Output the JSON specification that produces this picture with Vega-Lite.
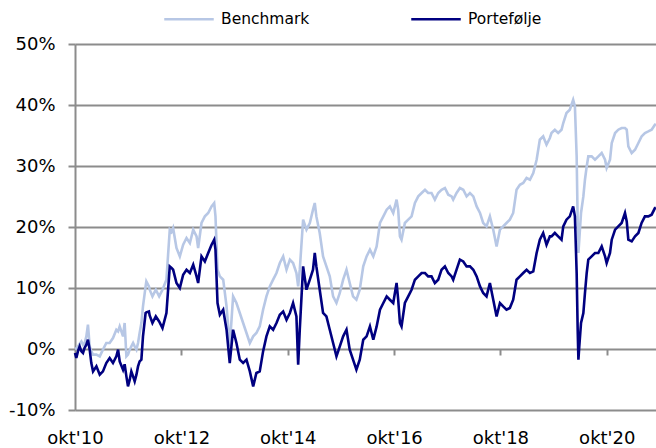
{
  "$schema": "https://vega.github.io/schema/vega-lite/v6.json",
  "width": 581,
  "height": 366,
  "autosize": {"type": "none"},
  "padding": {"left": 75, "top": 44, "right": 0, "bottom": 38},
  "config": {
    "view": {"stroke": null},
    "font": "DejaVu Sans",
    "axis": {"labelFont": "DejaVu Sans", "labelColor": "#000000"}
  },
  "data": {
    "values": [
      {"d": "2010-10-01", "Benchmark": 0.0, "Portefølje": -0.66},
      {"d": "2010-10-10", "Benchmark": 0.1, "Portefølje": -1.48},
      {"d": "2010-10-22", "Benchmark": 0.43, "Portefølje": -0.3},
      {"d": "2010-11-02", "Benchmark": 0.87, "Portefølje": 0.43},
      {"d": "2010-11-14", "Benchmark": 1.25, "Portefølje": -0.38},
      {"d": "2010-11-25", "Benchmark": 0.7, "Portefølje": -0.66},
      {"d": "2010-12-06", "Benchmark": 0.98, "Portefølje": 0.2},
      {"d": "2010-12-18", "Benchmark": 2.07, "Portefølje": 0.7},
      {"d": "2010-12-29", "Benchmark": 3.98, "Portefølje": 1.52},
      {"d": "2011-01-10", "Benchmark": 0.43, "Portefølje": -0.11},
      {"d": "2011-01-21", "Benchmark": -0.38, "Portefølje": -2.3},
      {"d": "2011-02-02", "Benchmark": -0.93, "Portefølje": -3.67},
      {"d": "2011-02-25", "Benchmark": -0.93, "Portefølje": -2.85},
      {"d": "2011-03-20", "Benchmark": -1.21, "Portefølje": -4.21},
      {"d": "2011-04-11", "Benchmark": -0.11, "Portefølje": -3.67},
      {"d": "2011-05-04", "Benchmark": 0.98, "Portefølje": -2.3},
      {"d": "2011-05-27", "Benchmark": 0.98, "Portefølje": -1.48},
      {"d": "2011-06-19", "Benchmark": 1.8, "Portefølje": -2.3},
      {"d": "2011-07-12", "Benchmark": 3.16, "Portefølje": -1.21},
      {"d": "2011-07-24", "Benchmark": 2.89, "Portefølje": -0.11},
      {"d": "2011-08-04", "Benchmark": 3.7, "Portefølje": -2.03},
      {"d": "2011-08-27", "Benchmark": 2.07, "Portefølje": -3.39},
      {"d": "2011-09-07", "Benchmark": 4.26, "Portefølje": -2.5},
      {"d": "2011-09-19", "Benchmark": -1.21, "Portefølje": -4.49},
      {"d": "2011-09-30", "Benchmark": -0.93, "Portefølje": -6.13},
      {"d": "2011-10-12", "Benchmark": -0.11, "Portefølje": -5.03},
      {"d": "2011-10-23", "Benchmark": 0.43, "Portefølje": -3.67},
      {"d": "2011-11-04", "Benchmark": 0.98, "Portefølje": -4.49},
      {"d": "2011-11-15", "Benchmark": 0.43, "Portefølje": -5.31},
      {"d": "2011-11-27", "Benchmark": -0.11, "Portefølje": -4.21},
      {"d": "2011-12-08", "Benchmark": 0.98, "Portefølje": -2.85},
      {"d": "2011-12-19", "Benchmark": 2.62, "Portefølje": -2.03},
      {"d": "2011-12-31", "Benchmark": 4.26, "Portefølje": -1.75},
      {"d": "2012-01-11", "Benchmark": 6.98, "Portefølje": 2.07},
      {"d": "2012-01-29", "Benchmark": 10.26, "Portefølje": 5.9},
      {"d": "2012-02-03", "Benchmark": 11.08, "Portefølje": 6.0},
      {"d": "2012-02-21", "Benchmark": 10.26, "Portefølje": 6.16},
      {"d": "2012-02-26", "Benchmark": 9.72, "Portefølje": 5.5},
      {"d": "2012-03-16", "Benchmark": 8.62, "Portefølje": 4.26},
      {"d": "2012-04-08", "Benchmark": 9.72, "Portefølje": 5.34},
      {"d": "2012-05-01", "Benchmark": 8.62, "Portefølje": 4.52},
      {"d": "2012-05-24", "Benchmark": 9.72, "Portefølje": 3.44},
      {"d": "2012-06-20", "Benchmark": 11.36, "Portefølje": 5.9},
      {"d": "2012-07-13", "Benchmark": 19.56, "Portefølje": 13.54},
      {"d": "2012-07-25", "Benchmark": 19.2, "Portefølje": 13.3},
      {"d": "2012-08-05", "Benchmark": 19.83, "Portefølje": 13.0},
      {"d": "2012-08-28", "Benchmark": 16.56, "Portefølje": 10.82},
      {"d": "2012-09-20", "Benchmark": 15.18, "Portefølje": 10.0},
      {"d": "2012-10-13", "Benchmark": 17.1, "Portefølje": 12.18},
      {"d": "2012-11-05", "Benchmark": 18.2, "Portefølje": 13.0},
      {"d": "2012-11-28", "Benchmark": 17.38, "Portefølje": 12.46},
      {"d": "2012-12-21", "Benchmark": 19.56, "Portefølje": 13.82},
      {"d": "2013-01-13", "Benchmark": 18.46, "Portefølje": 11.9},
      {"d": "2013-01-24", "Benchmark": 16.56, "Portefølje": 10.82},
      {"d": "2013-02-16", "Benchmark": 20.66, "Portefølje": 15.18},
      {"d": "2013-03-11", "Benchmark": 21.74, "Portefølje": 14.36},
      {"d": "2013-04-03", "Benchmark": 22.3, "Portefølje": 15.74},
      {"d": "2013-04-26", "Benchmark": 23.38, "Portefølje": 17.1},
      {"d": "2013-05-14", "Benchmark": 23.93, "Portefølje": 17.92},
      {"d": "2013-05-23", "Benchmark": 21.74, "Portefølje": 16.28},
      {"d": "2013-06-06", "Benchmark": 13.0, "Portefølje": 7.54},
      {"d": "2013-06-22", "Benchmark": 11.9, "Portefølje": 5.62},
      {"d": "2013-07-15", "Benchmark": 11.36, "Portefølje": 6.44},
      {"d": "2013-08-07", "Benchmark": 6.98, "Portefølje": 3.16},
      {"d": "2013-08-29", "Benchmark": 0.43, "Portefølje": -2.3},
      {"d": "2013-09-21", "Benchmark": 8.62, "Portefølje": 3.16},
      {"d": "2013-10-14", "Benchmark": 7.54, "Portefølje": 0.98},
      {"d": "2013-11-06", "Benchmark": 5.9, "Portefølje": -1.75},
      {"d": "2013-11-29", "Benchmark": 4.26, "Portefølje": -2.3},
      {"d": "2013-12-22", "Benchmark": 2.62, "Portefølje": -1.75},
      {"d": "2014-01-14", "Benchmark": 0.98, "Portefølje": -3.67},
      {"d": "2014-02-06", "Benchmark": 2.07, "Portefølje": -6.13},
      {"d": "2014-02-28", "Benchmark": 2.62, "Portefølje": -3.93},
      {"d": "2014-03-23", "Benchmark": 3.7, "Portefølje": -3.67},
      {"d": "2014-04-15", "Benchmark": 6.44, "Portefølje": -0.39},
      {"d": "2014-05-08", "Benchmark": 8.62, "Portefølje": 2.07},
      {"d": "2014-05-31", "Benchmark": 10.26, "Portefølje": 3.7},
      {"d": "2014-06-23", "Benchmark": 11.36, "Portefølje": 3.16},
      {"d": "2014-07-16", "Benchmark": 12.46, "Portefølje": 4.26},
      {"d": "2014-08-08", "Benchmark": 14.1, "Portefølje": 5.62},
      {"d": "2014-08-31", "Benchmark": 15.18, "Portefølje": 6.16},
      {"d": "2014-09-23", "Benchmark": 13.0, "Portefølje": 4.8},
      {"d": "2014-10-16", "Benchmark": 14.64, "Portefølje": 5.9},
      {"d": "2014-11-07", "Benchmark": 14.1, "Portefølje": 7.54},
      {"d": "2014-11-30", "Benchmark": 12.46, "Portefølje": 5.34},
      {"d": "2014-12-12", "Benchmark": 10.26, "Portefølje": -2.57},
      {"d": "2014-12-23", "Benchmark": 13.0, "Portefølje": 3.16},
      {"d": "2015-01-15", "Benchmark": 21.2, "Portefølje": 13.54},
      {"d": "2015-02-07", "Benchmark": 19.56, "Portefølje": 9.72},
      {"d": "2015-03-02", "Benchmark": 20.66, "Portefølje": 11.36},
      {"d": "2015-03-24", "Benchmark": 22.84, "Portefølje": 13.0},
      {"d": "2015-04-05", "Benchmark": 23.93, "Portefølje": 15.74},
      {"d": "2015-04-16", "Benchmark": 21.74, "Portefølje": 13.54},
      {"d": "2015-05-09", "Benchmark": 19.02, "Portefølje": 9.72},
      {"d": "2015-06-01", "Benchmark": 15.18, "Portefølje": 5.9},
      {"d": "2015-06-24", "Benchmark": 13.54, "Portefølje": 5.34},
      {"d": "2015-07-17", "Benchmark": 11.9, "Portefølje": 3.16},
      {"d": "2015-08-09", "Benchmark": 8.62, "Portefølje": 0.98},
      {"d": "2015-09-01", "Benchmark": 7.54, "Portefølje": -1.21},
      {"d": "2015-09-24", "Benchmark": 9.18, "Portefølje": 0.43},
      {"d": "2015-10-17", "Benchmark": 11.36, "Portefølje": 2.07},
      {"d": "2015-11-09", "Benchmark": 13.0, "Portefølje": 3.16},
      {"d": "2015-12-01", "Benchmark": 10.82, "Portefølje": -0.11},
      {"d": "2015-12-24", "Benchmark": 8.62, "Portefølje": -1.75},
      {"d": "2016-01-16", "Benchmark": 8.08, "Portefølje": -3.39},
      {"d": "2016-02-08", "Benchmark": 9.72, "Portefølje": -1.75},
      {"d": "2016-03-03", "Benchmark": 13.54, "Portefølje": 1.52},
      {"d": "2016-03-26", "Benchmark": 15.18, "Portefølje": 2.07},
      {"d": "2016-04-18", "Benchmark": 16.28, "Portefølje": 3.7},
      {"d": "2016-05-11", "Benchmark": 15.18, "Portefølje": 1.52},
      {"d": "2016-06-03", "Benchmark": 16.82, "Portefølje": 3.7},
      {"d": "2016-06-26", "Benchmark": 20.66, "Portefølje": 6.44},
      {"d": "2016-07-19", "Benchmark": 21.74, "Portefølje": 7.54},
      {"d": "2016-08-11", "Benchmark": 22.84, "Portefølje": 8.62},
      {"d": "2016-09-02", "Benchmark": 23.38, "Portefølje": 8.08},
      {"d": "2016-09-25", "Benchmark": 22.3, "Portefølje": 7.54},
      {"d": "2016-10-18", "Benchmark": 24.48, "Portefølje": 10.82},
      {"d": "2016-10-29", "Benchmark": 22.84, "Portefølje": 8.08},
      {"d": "2016-11-10", "Benchmark": 18.46, "Portefølje": 4.26},
      {"d": "2016-11-21", "Benchmark": 17.92, "Portefølje": 3.7},
      {"d": "2016-12-14", "Benchmark": 20.66, "Portefølje": 7.54},
      {"d": "2017-01-06", "Benchmark": 21.2, "Portefølje": 8.62},
      {"d": "2017-01-29", "Benchmark": 21.74, "Portefølje": 9.72},
      {"d": "2017-02-21", "Benchmark": 23.93, "Portefølje": 11.36},
      {"d": "2017-03-16", "Benchmark": 25.02, "Portefølje": 11.9},
      {"d": "2017-04-08", "Benchmark": 25.57, "Portefølje": 12.46},
      {"d": "2017-05-01", "Benchmark": 26.11, "Portefølje": 12.46},
      {"d": "2017-05-23", "Benchmark": 25.57, "Portefølje": 11.9},
      {"d": "2017-06-15", "Benchmark": 25.57, "Portefølje": 11.9},
      {"d": "2017-07-08", "Benchmark": 24.48, "Portefølje": 10.82},
      {"d": "2017-07-31", "Benchmark": 25.57, "Portefølje": 11.36},
      {"d": "2017-08-23", "Benchmark": 26.11, "Portefølje": 13.0},
      {"d": "2017-09-15", "Benchmark": 26.39, "Portefølje": 13.54},
      {"d": "2017-10-08", "Benchmark": 25.3, "Portefølje": 12.46},
      {"d": "2017-10-31", "Benchmark": 25.02, "Portefølje": 11.9},
      {"d": "2017-11-11", "Benchmark": 24.48, "Portefølje": 11.36},
      {"d": "2017-12-04", "Benchmark": 25.57, "Portefølje": 13.0},
      {"d": "2017-12-27", "Benchmark": 26.39, "Portefølje": 14.64},
      {"d": "2018-01-19", "Benchmark": 26.11, "Portefølje": 14.36},
      {"d": "2018-02-11", "Benchmark": 25.02, "Portefølje": 13.54},
      {"d": "2018-03-06", "Benchmark": 25.57, "Portefølje": 13.54},
      {"d": "2018-03-29", "Benchmark": 25.02, "Portefølje": 13.0},
      {"d": "2018-04-21", "Benchmark": 23.38, "Portefølje": 11.9},
      {"d": "2018-05-14", "Benchmark": 22.3, "Portefølje": 10.26},
      {"d": "2018-06-05", "Benchmark": 20.66, "Portefølje": 9.18},
      {"d": "2018-06-28", "Benchmark": 20.1, "Portefølje": 8.62},
      {"d": "2018-07-21", "Benchmark": 21.74, "Portefølje": 10.82},
      {"d": "2018-08-13", "Benchmark": 19.56, "Portefølje": 8.08},
      {"d": "2018-09-05", "Benchmark": 16.82, "Portefølje": 5.34},
      {"d": "2018-09-28", "Benchmark": 19.56, "Portefølje": 7.54},
      {"d": "2018-10-20", "Benchmark": 20.1, "Portefølje": 6.98},
      {"d": "2018-11-12", "Benchmark": 20.66, "Portefølje": 6.44},
      {"d": "2018-12-05", "Benchmark": 21.2, "Portefølje": 6.72},
      {"d": "2018-12-28", "Benchmark": 22.3, "Portefølje": 8.08},
      {"d": "2019-01-20", "Benchmark": 26.11, "Portefølje": 11.36},
      {"d": "2019-02-12", "Benchmark": 26.93, "Portefølje": 11.9},
      {"d": "2019-03-07", "Benchmark": 27.21, "Portefølje": 12.46},
      {"d": "2019-03-30", "Benchmark": 28.03, "Portefølje": 13.0},
      {"d": "2019-04-22", "Benchmark": 27.75, "Portefølje": 12.46},
      {"d": "2019-05-15", "Benchmark": 28.85, "Portefølje": 12.72},
      {"d": "2019-06-07", "Benchmark": 31.03, "Portefølje": 15.74},
      {"d": "2019-06-29", "Benchmark": 34.31, "Portefølje": 17.92},
      {"d": "2019-07-22", "Benchmark": 34.85, "Portefølje": 19.02},
      {"d": "2019-08-14", "Benchmark": 33.49, "Portefølje": 17.1},
      {"d": "2019-09-06", "Benchmark": 34.59, "Portefølje": 18.46},
      {"d": "2019-09-17", "Benchmark": 35.41, "Portefølje": 18.46},
      {"d": "2019-10-10", "Benchmark": 35.95, "Portefølje": 19.02},
      {"d": "2019-11-02", "Benchmark": 35.41, "Portefølje": 18.46},
      {"d": "2019-11-25", "Benchmark": 35.95, "Portefølje": 17.92},
      {"d": "2019-12-07", "Benchmark": 37.05, "Portefølje": 20.1},
      {"d": "2019-12-29", "Benchmark": 38.69, "Portefølje": 21.2},
      {"d": "2020-01-21", "Benchmark": 39.23, "Portefølje": 21.74},
      {"d": "2020-02-13", "Benchmark": 40.87, "Portefølje": 23.38},
      {"d": "2020-02-25", "Benchmark": 39.77, "Portefølje": 21.74},
      {"d": "2020-03-08", "Benchmark": 31.57, "Portefølje": 12.46},
      {"d": "2020-03-15", "Benchmark": 20.66, "Portefølje": 3.16},
      {"d": "2020-03-20", "Benchmark": 15.74, "Portefølje": -1.75},
      {"d": "2020-03-26", "Benchmark": 17.92, "Portefølje": 0.43},
      {"d": "2020-04-07", "Benchmark": 22.3, "Portefølje": 4.26},
      {"d": "2020-04-23", "Benchmark": 25.02, "Portefølje": 5.9},
      {"d": "2020-05-04", "Benchmark": 27.75, "Portefølje": 9.18},
      {"d": "2020-05-16", "Benchmark": 29.93, "Portefølje": 12.46},
      {"d": "2020-05-27", "Benchmark": 31.57, "Portefølje": 14.64},
      {"d": "2020-06-19", "Benchmark": 31.57, "Portefølje": 15.18},
      {"d": "2020-07-12", "Benchmark": 31.03, "Portefølje": 15.74},
      {"d": "2020-08-04", "Benchmark": 31.57, "Portefølje": 15.74},
      {"d": "2020-08-27", "Benchmark": 32.13, "Portefølje": 16.82},
      {"d": "2020-09-19", "Benchmark": 31.03, "Portefølje": 15.18},
      {"d": "2020-09-30", "Benchmark": 29.67, "Portefølje": 14.1},
      {"d": "2020-10-23", "Benchmark": 31.03, "Portefølje": 15.74},
      {"d": "2020-11-04", "Benchmark": 33.77, "Portefølje": 17.92},
      {"d": "2020-11-27", "Benchmark": 35.41, "Portefølje": 19.56},
      {"d": "2020-12-19", "Benchmark": 35.95, "Portefølje": 20.1},
      {"d": "2021-01-11", "Benchmark": 36.23, "Portefølje": 20.66},
      {"d": "2021-02-03", "Benchmark": 36.23, "Portefølje": 22.3},
      {"d": "2021-02-15", "Benchmark": 35.95, "Portefølje": 20.92},
      {"d": "2021-02-26", "Benchmark": 33.21, "Portefølje": 17.92},
      {"d": "2021-03-21", "Benchmark": 32.13, "Portefølje": 17.64},
      {"d": "2021-04-13", "Benchmark": 32.67, "Portefølje": 18.46},
      {"d": "2021-05-06", "Benchmark": 33.77, "Portefølje": 19.02},
      {"d": "2021-05-28", "Benchmark": 34.85, "Portefølje": 20.66},
      {"d": "2021-06-20", "Benchmark": 35.41, "Portefølje": 21.74},
      {"d": "2021-07-13", "Benchmark": 35.67, "Portefølje": 21.74},
      {"d": "2021-08-05", "Benchmark": 35.95, "Portefølje": 22.02},
      {"d": "2021-08-28", "Benchmark": 36.77, "Portefølje": 23.11},
      {"d": "2021-09-03", "Benchmark": 36.9, "Portefølje": 23.2}
    ]
  },
  "transform": [{"fold": ["Benchmark", "Portefølje"], "as": ["serie", "afkast"]}],
  "encoding": {
    "y": {
      "field": "afkast",
      "type": "quantitative",
      "scale": {"domain": [-10, 50], "nice": false, "zero": false},
      "axis": {
        "title": null,
        "values": [-10, 0, 10, 20, 30, 40, 50],
        "labelExpr": "datum.value + '%'",
        "labelFontSize": 18,
        "labelPadding": 13,
        "domain": true,
        "domainColor": "#8c8c8c",
        "domainWidth": 2,
        "ticks": true,
        "tickSize": 7,
        "tickWidth": 2,
        "tickColor": "#8c8c8c",
        "grid": true,
        "gridColor": "#8c8c8c",
        "gridWidth": 2
      }
    }
  },
  "resolve": {"axis": {"x": "independent"}},
  "layer": [
    {
      "mark": {"type": "line", "strokeWidth": 2.6, "interpolate": "linear"},
      "encoding": {
        "x": {
          "field": "d",
          "type": "temporal",
          "scale": {"domain": [{"year": 2010, "month": 10, "date": 1, "utc": true}, {"year": 2021, "month": 9, "date": 4, "utc": true}]},
          "axis": {
            "orient": "bottom",
            "title": null,
            "domain": false,
            "ticks": false,
            "grid": false,
            "labelFontSize": 18,
            "labelPadding": 19,
            "labelFlush": false,
            "labelOverlap": false,
            "values": [
              {"year": 2010, "month": 10, "date": 1, "utc": true},
              {"year": 2012, "month": 10, "date": 1, "utc": true},
              {"year": 2014, "month": 10, "date": 1, "utc": true},
              {"year": 2016, "month": 10, "date": 1, "utc": true},
              {"year": 2018, "month": 10, "date": 1, "utc": true},
              {"year": 2020, "month": 10, "date": 1, "utc": true}
            ],
            "labelExpr": "\"okt'\" + utcFormat(datum.value, '%y')"
          }
        },
        "color": {
          "field": "serie",
          "type": "nominal",
          "scale": {"domain": ["Benchmark", "Portefølje"], "range": ["#b7c7e5", "#000080"]},
          "legend": {
            "title": null,
            "orient": "none",
            "direction": "horizontal",
            "legendX": 88,
            "legendY": -51,
            "symbolType": "stroke",
            "symbolSize": 2450,
            "symbolStrokeWidth": 2.5,
            "labelFont": "DejaVu Sans",
            "labelFontSize": 15.5,
            "labelColor": "#000000",
            "labelOffset": 6,
            "columnPadding": 96
          }
        }
      }
    },
    {
      "mark": {"type": "line", "strokeOpacity": 0},
      "encoding": {
        "x": {
          "field": "d",
          "type": "temporal",
          "axis": {
            "orient": "bottom",
            "offset": -61,
            "title": null,
            "labels": false,
            "domain": false,
            "grid": false,
            "ticks": true,
            "tickSize": 6,
            "tickWidth": 2,
            "tickColor": "#8c8c8c",
            "values": [
              {"year": 2012, "month": 10, "date": 1, "utc": true},
              {"year": 2014, "month": 10, "date": 1, "utc": true},
              {"year": 2016, "month": 10, "date": 1, "utc": true},
              {"year": 2018, "month": 10, "date": 1, "utc": true},
              {"year": 2020, "month": 10, "date": 1, "utc": true}
            ]
          }
        }
      }
    }
  ]
}
